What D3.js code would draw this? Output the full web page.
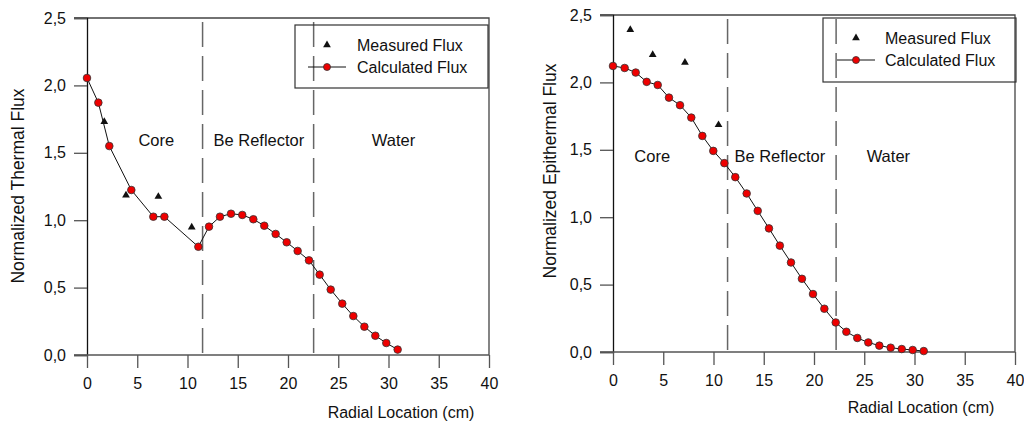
<!DOCTYPE html>
<html lang="en">
<head>
<meta charset="utf-8">
<title>Normalized flux profiles</title>
<script src="https://d3js.org/d3.v7.min.js"></script>
<style>
  body { margin: 0; background: #fff; }
  svg { display: block; }
  text { font-family: "Liberation Sans", Arial, sans-serif; fill: #111; }
  .tick-label { font-size: 16px; }
  .x-title { font-size: 16px; }
  .y-title { font-size: 17.5px; }
  .region { font-size: 16.5px; }
  .legend-text { font-size: 16px; }
</style>
</head>
<body>
<svg width="1024" height="428"></svg>
<script>
// ---- data ----
const xTicks = [0, 5, 10, 15, 20, 25, 30, 35, 40];
const yTicks = [0, 0.5, 1.0, 1.5, 2.0, 2.5];

// thermal flux (left panel)
const thermalCalcX = [0, 1.13, 2.22, 4.41, 6.6, 7.7, 11.08, 12.14, 13.23, 14.33, 15.45, 16.55, 17.64, 18.77,
                      19.87, 20.96, 22.09, 23.15, 24.25, 25.4, 26.5, 27.6, 28.69, 29.78, 30.91];
const thermalCalcY = [2.055, 1.872, 1.55, 1.224, 1.026, 1.026, 0.803, 0.952, 1.026, 1.048, 1.039, 1.007, 0.959, 0.898,
                      0.836, 0.772, 0.702, 0.596, 0.485, 0.381, 0.289, 0.21, 0.143, 0.089, 0.04];
const thermalMeasX = [1.72, 3.88, 7.1, 10.42];
const thermalMeasY = [1.73, 1.185, 1.175, 0.948];
const thermalBounds = [11.5, 22.55];

// epithermal flux (right panel)
const epiCalcX = [0, 1.16, 2.26, 3.35, 4.45, 5.57, 6.67, 7.79, 8.89, 9.98, 11.08, 12.17, 13.3, 14.4, 15.52, 16.6,
                  17.71, 18.8, 19.9, 21.03, 22.16, 23.22, 24.31, 25.4, 26.5, 27.63, 28.73, 29.82, 30.92];
const epiCalcY = [2.122, 2.107, 2.073, 2.004, 1.981, 1.887, 1.831, 1.739, 1.603, 1.492, 1.401, 1.297, 1.176, 1.047,
                  0.917, 0.789, 0.664, 0.543, 0.43, 0.321, 0.219, 0.15, 0.104, 0.071, 0.047, 0.032, 0.022, 0.015, 0.007];
const epiMeasX = [1.72, 3.95, 7.16, 10.5];
const epiMeasY = [2.39, 2.205, 2.148, 1.685];
const epiBounds = [11.4, 22.2];

const regionNames = ["Core", "Be Reflector", "Water"];
const legendNames = ["Measured Flux", "Calculated Flux"];

const svg = d3.select("svg");
const fmt = d => d3.format(".1f")(d).replace(".", ",");

function drawPanel(p) {
  const x = d3.scaleLinear().domain([0, 40]).range([p.left, p.right]);
  const y = d3.scaleLinear().domain([0, 2.5]).range([p.bottom, p.top]);
  const g = svg.append("g");

  // frame (top + right)
  g.append("path")
    .attr("d", `M${p.left - 13},${p.top}H${p.right}V${p.bottom}`)
    .attr("fill", "none").attr("stroke", "#444").attr("stroke-width", 1.3);

  // y axis
  const ya = g.append("g").attr("transform", `translate(${p.left},0)`)
    .call(d3.axisLeft(y).tickValues(yTicks).tickFormat(fmt).tickSize(13).tickPadding(8));
  ya.select(".domain").attr("stroke", "#111").attr("stroke-width", 1.3);
  ya.selectAll(".tick line").attr("stroke", "#555").attr("stroke-width", 1.3);
  ya.selectAll(".tick text").attr("class", "tick-label").attr("font-family", null).attr("font-size", null);

  // x axis
  const xa = g.append("g").attr("transform", `translate(0,${p.bottom})`)
    .call(d3.axisBottom(x).tickValues(xTicks).tickSize(13).tickPadding(10));
  xa.select(".domain").attr("stroke", "#555").attr("stroke-width", 1.3)
    .attr("d", `M${p.left - 13},0H${p.right}`);
  xa.selectAll(".tick line").attr("stroke", "#555").attr("stroke-width", 1.3);
  xa.selectAll(".tick text").attr("class", "tick-label").attr("font-family", null).attr("font-size", null);

  // region boundaries
  g.selectAll(".bound").data(p.bounds).join("line")
    .attr("x1", d => x(d)).attr("x2", d => x(d))
    .attr("y1", p.top + 4).attr("y2", p.bottom)
    .attr("stroke", "#666").attr("stroke-width", 1.5)
    .attr("stroke-dasharray", "25,9");

  // region labels
  g.selectAll(".region").data(regionNames).join("text")
    .attr("class", "region")
    .attr("x", (d, i) => x(p.regionX[i]))
    .attr("y", p.regionY)
    .attr("text-anchor", "middle")
    .attr("dominant-baseline", "central")
    .text(d => d);

  // calculated line + circles
  const calc = p.calcX.map((v, i) => [v, p.calcY[i]]);
  g.append("path").datum(calc)
    .attr("fill", "none").attr("stroke", "#111").attr("stroke-width", 1)
    .attr("d", d3.line().x(d => x(d[0])).y(d => y(d[1])));
  g.selectAll(".calc").data(calc).join("circle")
    .attr("cx", d => x(d[0])).attr("cy", d => y(d[1])).attr("r", 3.8)
    .attr("fill", "#ee0000").attr("stroke", "#333").attr("stroke-width", 0.8);

  // measured triangles
  const meas = p.measX.map((v, i) => [v, p.measY[i]]);
  const tri = d3.symbol().type(d3.symbolTriangle).size(26);
  g.selectAll(".meas").data(meas).join("path")
    .attr("transform", d => `translate(${x(d[0])},${y(d[1])})`)
    .attr("d", tri).attr("fill", "#111");

  // axis titles
  g.append("text").attr("class", "x-title")
    .attr("x", p.xTitle[0]).attr("y", p.xTitle[1])
    .attr("text-anchor", "middle").attr("dominant-baseline", "central")
    .text("Radial Location (cm)");
  g.append("text").attr("class", "y-title")
    .attr("transform", `translate(${p.yTitle[0]},${p.yTitle[1]}) rotate(-90)`)
    .attr("text-anchor", "middle").attr("dominant-baseline", "central")
    .text(p.yLabel);

  // legend
  const L = p.legend;
  g.append("rect").attr("x", L.x).attr("y", L.y).attr("width", L.w).attr("height", L.h)
    .attr("fill", "none").attr("stroke", "#333").attr("stroke-width", 1.2);
  g.append("path").attr("transform", `translate(${L.x + L.sym},${L.y + 20})`)
    .attr("d", tri).attr("fill", "#111");
  g.append("line").attr("x1", L.x + L.sym - 19).attr("x2", L.x + L.sym + 19)
    .attr("y1", L.y + 42).attr("y2", L.y + 42).attr("stroke", "#111");
  g.append("circle").attr("cx", L.x + L.sym).attr("cy", L.y + 42).attr("r", 3.5)
    .attr("fill", "#ee0000").attr("stroke", "#333").attr("stroke-width", 0.8);
  g.selectAll(".legend-text").data(legendNames).join("text")
    .attr("class", "legend-text")
    .attr("x", L.x + L.txt).attr("y", (d, i) => L.y + 20 + i * 22)
    .attr("dominant-baseline", "central")
    .text(d => d);
}

drawPanel({
  left: 87, right: 489, top: 18, bottom: 355,
  calcX: thermalCalcX, calcY: thermalCalcY, measX: thermalMeasX, measY: thermalMeasY,
  bounds: thermalBounds, regionX: [6.9, 17.1, 30.5], regionY: 140,
  xTitle: [401, 412], yTitle: [18, 186], yLabel: "Normalized Thermal Flux",
  legend: { x: 295, y: 25, w: 193, h: 63, sym: 32, txt: 62 }
});

drawPanel({
  left: 613, right: 1015, top: 15, bottom: 352,
  calcX: epiCalcX, calcY: epiCalcY, measX: epiMeasX, measY: epiMeasY,
  bounds: epiBounds, regionX: [3.9, 16.6, 27.4], regionY: 156,
  xTitle: [921, 407], yTitle: [550, 171], yLabel: "Normalized Epithermal Flux",
  legend: { x: 823, y: 18, w: 193, h: 64, sym: 33, txt: 62 }
});
</script>
</body>
</html>
